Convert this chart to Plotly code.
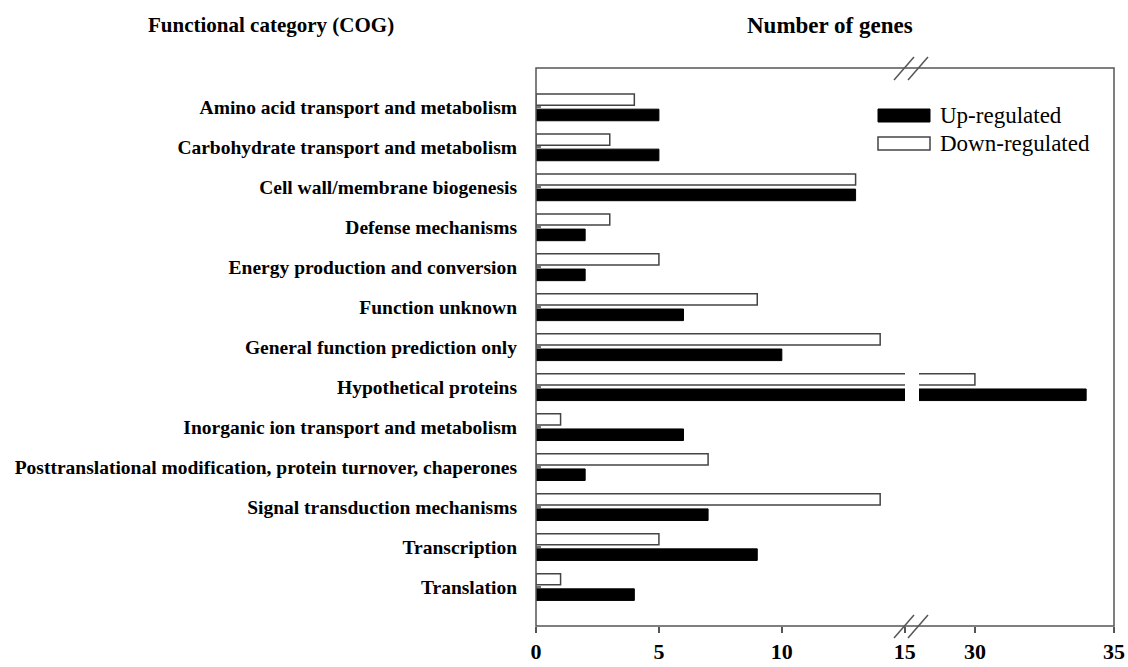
import plotly.graph_objects as go

categories = [
    "Amino acid transport and metabolism",
    "Carbohydrate transport and metabolism",
    "Cell wall/membrane biogenesis",
    "Defense mechanisms",
    "Energy production and conversion",
    "Function unknown",
    "General function prediction only",
    "Hypothetical proteins",
    "Inorganic ion transport and metabolism",
    "Posttranslational modification, protein turnover, chaperones",
    "Signal transduction mechanisms",
    "Transcription",
    "Translation",
]
up_regulated = [5, 5, 13, 2, 2, 6, 10, 34, 6, 2, 7, 9, 4]
down_regulated = [4, 3, 13, 3, 5, 9, 14, 30, 1, 7, 14, 5, 1]
ticks_low = [0, 5, 10, 15]
ticks_high = [30, 35]

W, H = 1128, 667
L, R, T, B = 536, 14, 68, 41
PW, PH = W - L - R, H - T - B


def px(x):
    return (x - L) / PW


def py(y):
    return 1 - (y - T) / PH


SERIF = "Liberation Serif"
EDGE = "#555555"

fig = go.Figure()
for xa in ["x", "x2"]:
    fig.add_trace(go.Bar(
        y=categories, x=down_regulated, orientation="h",
        width=0.28, offset=-0.33,
        marker=dict(color="white", line=dict(color="#444444", width=1.5)),
        xaxis=xa, yaxis="y", showlegend=False, name="Down-regulated",
    ))
    fig.add_trace(go.Bar(
        y=categories, x=up_regulated, orientation="h",
        width=0.29, offset=0.05,
        marker=dict(color="black", line=dict(color="black", width=1)),
        xaxis=xa, yaxis="y", showlegend=False, name="Up-regulated",
    ))

x1_end = px(905)
x2_start = px(919)

axis_common = dict(
    showgrid=False, zeroline=False, showline=False, automargin=False,
    ticks="outside", ticklen=6, tickwidth=1.5, tickcolor=EDGE,
    tickfont=dict(family=SERIF, size=22, color="black", weight="bold"),
    tickmode="array",
)
fig.update_layout(
    width=W, height=H,
    margin=dict(l=L, r=R, t=T, b=B, autoexpand=False),
    paper_bgcolor="white", plot_bgcolor="white",
    barmode="overlay",
    showlegend=False,
    xaxis=dict(domain=[0, x1_end], range=[0, 15.01], tickvals=ticks_low,
               anchor="y", **axis_common),
    xaxis2=dict(domain=[x2_start, 1], range=[27.99, 35.001], tickvals=ticks_high,
                anchor="y", **axis_common),
    yaxis=dict(
        type="category", categoryorder="array", categoryarray=categories,
        range=[12.98, -0.98], anchor="x", automargin=False,
        showgrid=False, zeroline=False, showline=False,
        ticks="inside", ticklen=5, tickwidth=2, tickcolor="#777777",
        ticklabelstandoff=18,
        tickfont=dict(family=SERIF, size=19.5, color="black", weight="bold"),
    ),
)

shapes = []
# frame
shapes.append(dict(type="rect", xref="paper", yref="paper", x0=0, x1=1, y0=0, y1=1,
                   line=dict(color=EDGE, width=1.5), layer="above"))
# break marks (top and bottom)
for yline in [T, T + PH]:
    for x0 in [894, 908]:
        shapes.append(dict(type="line", xref="paper", yref="paper",
                           x0=px(x0), x1=px(x0 + 20), y0=py(yline + 12), y1=py(yline - 11),
                           line=dict(color=EDGE, width=1.5)))
# legend swatches
shapes.append(dict(type="rect", xref="paper", yref="paper",
                   x0=px(878), x1=px(930), y0=py(122), y1=py(109),
                   fillcolor="black", line=dict(color="black", width=1)))
shapes.append(dict(type="rect", xref="paper", yref="paper",
                   x0=px(878), x1=px(930), y0=py(150), y1=py(137),
                   fillcolor="white", line=dict(color="#444444", width=1.5)))
fig.update_layout(shapes=shapes)

annotations = [
    dict(text="Up-regulated", x=px(938), y=py(115.5), xref="paper", yref="paper",
         xanchor="left", yanchor="middle", showarrow=False,
         font=dict(family=SERIF, size=23, color="black")),
    dict(text="Down-regulated", x=px(938), y=py(143.5), xref="paper", yref="paper",
         xanchor="left", yanchor="middle", showarrow=False,
         font=dict(family=SERIF, size=23, color="black")),
    dict(text="Functional category (COG)", x=px(271), y=py(25), xref="paper", yref="paper",
         xanchor="center", yanchor="middle", showarrow=False,
         font=dict(family=SERIF, size=21, color="black", weight="bold")),
    dict(text="Number of genes", x=px(830), y=py(25), xref="paper", yref="paper",
         xanchor="center", yanchor="middle", showarrow=False,
         font=dict(family=SERIF, size=23, color="black", weight="bold")),
]
fig.update_layout(annotations=annotations)

fig.write_html("out.html", config={"displayModeBar": False},
               post_script="document.body.style.margin='0px';")
